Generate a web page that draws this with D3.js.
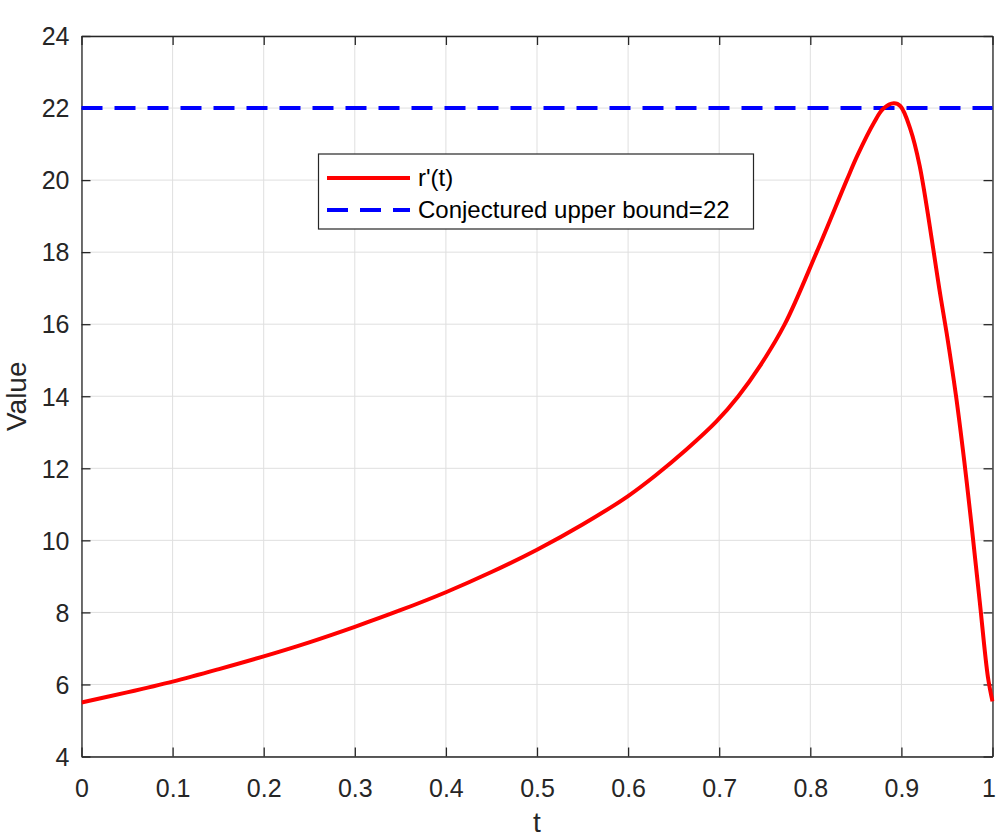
<!DOCTYPE html>
<html><head><meta charset="utf-8">
<script src="https://cdn.jsdelivr.net/npm/d3@7"></script>
<style>body{margin:0;background:#fff}svg{display:block}text{font-family:"Liberation Sans",Arial,Helvetica,sans-serif}</style>
</head><body>
<script>
const tValues = [0,0.05,0.1,0.15,0.2,0.25,0.3,0.35,0.4,0.45,0.5,0.55,0.6,0.63,0.664,0.697,0.721,0.745,0.772,0.807,0.84,0.852,0.87,0.88,0.8917,0.899,0.91,0.92,0.9346,0.9415,0.9497,0.96,0.969,0.9771,0.986,0.995,1.0];
const rValues = [5.5,5.78,6.08,6.42,6.78,7.17,7.6,8.06,8.56,9.12,9.74,10.44,11.23,11.8,12.52,13.3,14.0,14.85,16.0,18.0,20.0,20.7,21.6,21.98,22.13,22.05,21.4,20.4,18.15,17.0,15.75,14.0,12.2,10.4,8.3,6.2,5.53];
const boundValue = 22;
const xTicks = [0,0.1,0.2,0.3,0.4,0.5,0.6,0.7,0.8,0.9,1];
const yTicks = [4,6,8,10,12,14,16,18,20,22,24];
const seriesNames = ["r'(t)", "Conjectured upper bound=22"];
const xLabel = "t", yLabel = "Value";

const W = 997, H = 840;
const L = 81.5, R = 992.5, T = 36, B = 756.5;
const svg = d3.select("body").append("svg").attr("width", W).attr("height", H);
const x = d3.scaleLinear().domain([0,1]).range([L,R]);
const y = d3.scaleLinear().domain([4,24]).range([B,T]);
const axisColor = "#262626";

// grid
svg.append("g").selectAll("line").data(xTicks).join("line")
  .attr("x1", d=>x(d)).attr("x2", d=>x(d)).attr("y1", T).attr("y2", B)
  .attr("stroke", "#dfdfdf").attr("stroke-width", 1);
svg.append("g").selectAll("line").data(yTicks).join("line")
  .attr("y1", d=>y(d)).attr("y2", d=>y(d)).attr("x1", L).attr("x2", R)
  .attr("stroke", "#dfdfdf").attr("stroke-width", 1);

// axes with inward ticks
const ax = svg.append("g").attr("transform", `translate(0,${B})`)
  .call(d3.axisBottom(x).tickValues(xTicks).tickSizeInner(-9).tickSizeOuter(0).tickFormat(d=>d3.format("")(d)));
const axT = svg.append("g").attr("transform", `translate(0,${T})`)
  .call(d3.axisTop(x).tickValues(xTicks).tickSizeInner(-9).tickSizeOuter(0).tickFormat(""));
const ay = svg.append("g").attr("transform", `translate(${L},0)`)
  .call(d3.axisLeft(y).tickValues(yTicks).tickSizeInner(-9).tickSizeOuter(0));
const ayR = svg.append("g").attr("transform", `translate(${R},0)`)
  .call(d3.axisRight(y).tickValues(yTicks).tickSizeInner(-9).tickSizeOuter(0).tickFormat(""));
[ax, axT, ay, ayR].forEach(g => {
  g.attr("font-size", null).attr("font-family", null);
  g.select(".domain").attr("stroke", axisColor).attr("stroke-width", 1.3);
  g.selectAll(".tick line").attr("stroke", axisColor).attr("stroke-width", 1.3);
  g.selectAll(".tick text").attr("fill", axisColor).style("font-size", "25px");
});
ax.selectAll(".tick text").attr("y", 40).attr("dy", null)
  .attr("x", d => d === 1 ? -4 : 0);
ay.selectAll(".tick text").attr("x", -12).attr("dy", "0.35em");

// data lines
svg.append("clipPath").attr("id","clip").append("rect")
  .attr("x", L).attr("y", T-6).attr("width", R-L+2).attr("height", B-T+6);
const pts = tValues.map((t,i)=>[t, rValues[i]]);
svg.append("line").attr("x1", x(0)).attr("x2", x(1)).attr("y1", y(boundValue)).attr("y2", y(boundValue))
  .attr("stroke", "#0000ff").attr("stroke-width", 4).attr("stroke-dasharray", "21,12");
svg.append("path").datum(pts)
  .attr("d", d3.line().x(d=>x(d[0])).y(d=>y(d[1])).curve(d3.curveCatmullRom.alpha(0.5)))
  .attr("fill", "none").attr("stroke", "#ff0000").attr("stroke-width", 4)
  .attr("stroke-linejoin", "round").attr("clip-path", "url(#clip)");

// axis labels
svg.append("text").attr("x", (L+R)/2).attr("y", 832).attr("text-anchor", "middle")
  .style("font-size", "28px").attr("fill", axisColor).text(xLabel);
svg.append("text").attr("transform", `translate(26,${(T+B)/2}) rotate(-90)`).attr("text-anchor", "middle")
  .style("font-size", "28px").attr("fill", axisColor).text(yLabel);

// legend
const lg = svg.append("g");
lg.append("rect").attr("x", 318.5).attr("y", 154).attr("width", 435).attr("height", 75)
  .attr("fill", "#fff").attr("stroke", axisColor).attr("stroke-width", 1.2);
const rows = [{y:178, color:"#ff0000", dash:null}, {y:210, color:"#0000ff", dash:"21,12"}];
rows.forEach((r,i) => {
  lg.append("line").attr("x1", 327).attr("x2", 410).attr("y1", r.y).attr("y2", r.y)
    .attr("stroke", r.color).attr("stroke-width", 4).attr("stroke-dasharray", r.dash);
  lg.append("text").attr("x", 418).attr("y", r.y).attr("dy", "0.35em")
    .style("font-size", "24px").attr("fill", "#000").text(seriesNames[i]);
});
</script>
</body></html>
